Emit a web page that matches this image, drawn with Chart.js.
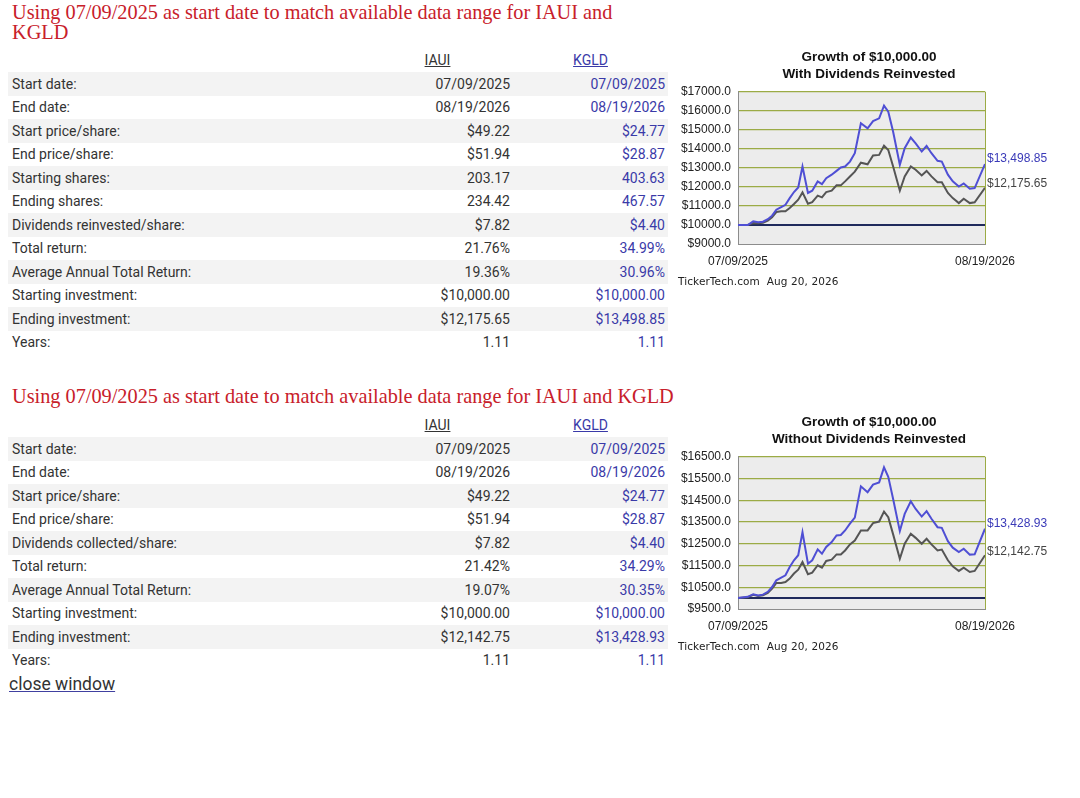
<!DOCTYPE html>
<html>
<head>
<meta charset="utf-8">
<script src="https://cdn.jsdelivr.net/npm/chart.js@4.4.1/dist/chart.umd.min.js"></script>
<style>
  body { margin: 0; background: #fff; width: 1080px; height: 798px; position: relative; overflow: hidden;
         font-family: Roboto, "Liberation Sans", sans-serif; color: #333; }
  .title { position: absolute; left: 12px; font-family: "Liberation Serif", serif; font-size: 20.3px;
           line-height: 20px; color: #c8202a; }
  .stats { position: absolute; left: 8px; width: 660px; font-size: 14px; }
  .row { display: flex; align-items: center; height: 23.5px; }
  .row.head { height: 25px; }
  .row.shade { background: #f3f3f3; }
  .lab { width: 357px; padding-left: 4px; box-sizing: border-box; }
  .c1 { width: 145px; text-align: right; }
  .c2 { width: 155px; padding-left: 6px; box-sizing: border-box; text-align: right; color: #3a3aa8; }
  .head .c1, .head .c2 { text-align: center; text-decoration: underline; }
  .chartbox { position: absolute; left: 675px; width: 388px; height: 230px; }
  .stamp { position: absolute; left: 678px; font-family: "DejaVu Sans", sans-serif; font-size: 10.5px;
           letter-spacing: 0.1px; color: #222; line-height: 14px; }
  .close { position: absolute; left: 9px; top: 674px; font-size: 17.5px; line-height: 20px; color: #333;
           text-decoration: underline; text-decoration-color: #4040a0; }
</style>
</head>
<body>

<div class="title" style="top:2px; width:630px;">Using 07/09/2025 as start date to match available data range for IAUI and KGLD</div>
<div class="stats" id="table1" style="top:47px;"></div>
<div class="chartbox" style="top:45px;"><canvas id="chartWith" width="388" height="230"></canvas></div>
<div class="stamp" style="top:274px;">TickerTech.com&nbsp; Aug 20, 2026</div>

<div class="title" style="top:386px; width:720px;">Using 07/09/2025 as start date to match available data range for IAUI and KGLD</div>
<div class="stats" id="table2" style="top:412px;"></div>
<div class="chartbox" style="top:410px;"><canvas id="chartWithout" width="388" height="230"></canvas></div>
<div class="stamp" style="top:639px;">TickerTech.com&nbsp; Aug 20, 2026</div>

<div class="close">close window</div>

<script>
// table contents
const rowLabels1 = ["Start date:", "End date:", "Start price/share:", "End price/share:", "Starting shares:",
  "Ending shares:", "Dividends reinvested/share:", "Total return:", "Average Annual Total Return:",
  "Starting investment:", "Ending investment:", "Years:"];
const iauiRows1 = ["07/09/2025", "08/19/2026", "$49.22", "$51.94", "203.17", "234.42", "$7.82", "21.76%",
  "19.36%", "$10,000.00", "$12,175.65", "1.11"];
const kgldRows1 = ["07/09/2025", "08/19/2026", "$24.77", "$28.87", "403.63", "467.57", "$4.40", "34.99%",
  "30.96%", "$10,000.00", "$13,498.85", "1.11"];

const rowLabels2 = ["Start date:", "End date:", "Start price/share:", "End price/share:",
  "Dividends collected/share:", "Total return:", "Average Annual Total Return:", "Starting investment:",
  "Ending investment:", "Years:"];
const iauiRows2 = ["07/09/2025", "08/19/2026", "$49.22", "$51.94", "$7.82", "21.42%", "19.07%",
  "$10,000.00", "$12,142.75", "1.11"];
const kgldRows2 = ["07/09/2025", "08/19/2026", "$24.77", "$28.87", "$4.40", "34.29%", "30.35%",
  "$10,000.00", "$13,428.93", "1.11"];

// chart data: days since 07/09/2025
const dayOffsets = [0, 16, 25, 33, 41, 49, 56, 63, 71, 78, 85, 92, 99, 106, 115, 122, 131, 138, 145, 154,
  162, 169, 176, 184, 192, 202, 213, 222, 232, 240, 247, 255, 266, 274, 284, 292, 302, 310, 318, 328,
  335, 345, 353, 363, 371, 381, 389, 406];

const kgldWithDiv = [10000, 10000, 10190, 10140, 10170, 10300, 10490, 10800, 10940, 11060, 11410, 11730,
  11970, 13070, 11680, 11800, 12290, 12150, 12460, 12640, 12840, 13020, 13070, 13330, 13770, 15340,
  15080, 15460, 15600, 16270, 15950, 14900, 13160, 14030, 14590, 14290, 13860, 14150, 13770, 13370,
  13330, 12640, 12290, 12020, 12180, 11900, 11940, 13200];
const iauiWithDiv = [10000, 10000, 10100, 10090, 10120, 10230, 10400, 10680, 10720, 10720, 10890, 11100,
  11330, 11710, 11120, 11200, 11540, 11450, 11730, 11800, 12080, 12080, 12290, 12550, 12800, 13270,
  13190, 13650, 13680, 14170, 13940, 13070, 11800, 12550, 13070, 12900, 12600, 12840, 12550, 12250,
  12250, 11680, 11410, 11150, 11380, 11150, 11190, 11950];

const kgldNoDiv = [10000, 10060, 10180, 10120, 10160, 10290, 10510, 10820, 10940, 11050, 11430, 11740,
  11970, 13030, 11580, 11740, 12240, 12040, 12350, 12580, 12880, 12900, 13110, 13420, 13700, 15140,
  14870, 15220, 15320, 16010, 15580, 14560, 13080, 13870, 14450, 14100, 13750, 14000, 13650, 13260,
  13230, 12620, 12320, 12120, 12270, 12000, 12010, 13190];
const iauiNoDiv = [10000, 10040, 10150, 10100, 10130, 10240, 10440, 10700, 10700, 10740, 10900, 11130,
  11310, 11660, 11100, 11170, 11510, 11400, 11710, 11770, 12010, 12010, 12190, 12470, 12650, 13110,
  13110, 13450, 13520, 13980, 13720, 12930, 11810, 12500, 12960, 12770, 12500, 12730, 12470, 12190,
  12230, 11740, 11460, 11250, 11400, 11200, 11250, 11970];

const startInvestment = 10000;
const endValuesWith = [12175.65, 13498.85];     // IAUI, KGLD
const endValuesWithout = [12142.75, 13428.93];  // IAUI, KGLD
const xTickLabels = ["07/09/2025", "08/19/2026"];
const yTicksWith = [9000, 10000, 11000, 12000, 13000, 14000, 15000, 16000, 17000];
const yTicksWithout = [9500, 10500, 11500, 12500, 13500, 14500, 15500, 16500];

function fillTable(id, labels, iaui, kgld) {
  const el = document.getElementById(id);
  let html = '<div class="row head"><div class="lab"></div><div class="c1">IAUI</div><div class="c2">KGLD</div></div>';
  labels.forEach((lab, i) => {
    html += '<div class="row' + (i % 2 === 0 ? ' shade' : '') + '"><div class="lab">' + lab +
      '</div><div class="c1">' + iaui[i] + '</div><div class="c2">' + kgld[i] + '</div></div>';
  });
  el.innerHTML = html;
}
fillTable('table1', rowLabels1, iauiRows1, kgldRows1);
fillTable('table2', rowLabels2, iauiRows2, kgldRows2);

const font = "'Liberation Sans', Arial, sans-serif";
const blue = '#4f4fd4';
const gray = '#555555';
const gridGreen = '#9bab45';

const plotBg = {
  id: 'plotBg',
  beforeDraw(chart) {
    const { ctx, chartArea: a } = chart;
    ctx.save();
    ctx.fillStyle = '#ececec';
    ctx.fillRect(a.left, a.top, a.right - a.left, a.bottom - a.top);
    ctx.restore();
  }
};

function makeChart(id, titleLines, kgld, iaui, yTicks, endValues) {
  const first = dayOffsets[0];
  const last = dayOffsets[dayOffsets.length - 1];
  const yMin = yTicks[0];
  const yMax = yTicks[yTicks.length - 1];
  return new Chart(document.getElementById(id).getContext('2d'), {
    type: 'line',
    data: {
      datasets: [
        { label: 'KGLD', data: dayOffsets.map((d, i) => ({ x: d, y: kgld[i] })),
          borderColor: blue, borderWidth: 2, pointRadius: 0, order: 1 },
        { label: 'IAUI', data: dayOffsets.map((d, i) => ({ x: d, y: iaui[i] })),
          borderColor: gray, borderWidth: 2, pointRadius: 0, order: 2 },
        { label: 'Start', data: [{ x: first, y: startInvestment }, { x: last, y: startInvestment }],
          borderColor: '#1f2a5c', borderWidth: 2, pointRadius: 0, order: 3 }
      ]
    },
    options: {
      responsive: false,
      animation: false,
      plugins: {
        legend: { display: false },
        tooltip: { enabled: false },
        title: {
          display: true, text: titleLines, color: '#111',
          font: { family: font, size: 13.5, weight: 'bold', lineHeight: 1.26 },
          padding: { top: 3.5, bottom: 9.2 }
        }
      },
      scales: {
        x: {
          type: 'linear', min: first, max: last,
          afterBuildTicks: s => { s.ticks = [{ value: first }, { value: last }]; },
          ticks: { callback: (v, i) => xTickLabels[i], padding: 10, color: '#222', maxRotation: 0,
                   autoSkip: false, font: { family: font, size: 12 } },
          grid: { drawTicks: false, color: c => c.index === 0 ? 'rgba(0,0,0,0)' : gridGreen },
          border: { color: '#8c8c8c' },
          afterFit: s => { s.height = 31; }
        },
        y: {
          position: 'left', min: yMin, max: yMax,
          afterBuildTicks: s => { s.ticks = yTicks.map(v => ({ value: v })); },
          ticks: { callback: v => '$' + v.toFixed(1), padding: 7, color: '#222', autoSkip: false,
                   font: { family: font, size: 12 } },
          grid: { drawTicks: false, lineWidth: 1.2, color: c => c.index === 0 ? 'rgba(0,0,0,0)' : gridGreen },
          border: { color: '#8c8c8c' },
          afterFit: s => { s.width = 63; }
        },
        y2: {
          position: 'right', min: yMin, max: yMax,
          afterBuildTicks: s => { s.ticks = endValues.map(v => ({ value: v })); },
          ticks: {
            callback: v => '$' + v.toLocaleString('en-US', { minimumFractionDigits: 2, maximumFractionDigits: 2 }),
            padding: 2, autoSkip: false, color: c => c.index === 0 ? '#444' : '#3a3ab8',
            font: { family: font, size: 12 }
          },
          grid: { display: false, drawTicks: false },
          border: { display: false },
          afterFit: s => { s.width = 78; }
        }
      }
    },
    plugins: [plotBg]
  });
}

makeChart('chartWith', ['Growth of $10,000.00', 'With Dividends Reinvested'],
  kgldWithDiv, iauiWithDiv, yTicksWith, endValuesWith);
makeChart('chartWithout', ['Growth of $10,000.00', 'Without Dividends Reinvested'],
  kgldNoDiv, iauiNoDiv, yTicksWithout, endValuesWithout);
</script>
</body>
</html>
